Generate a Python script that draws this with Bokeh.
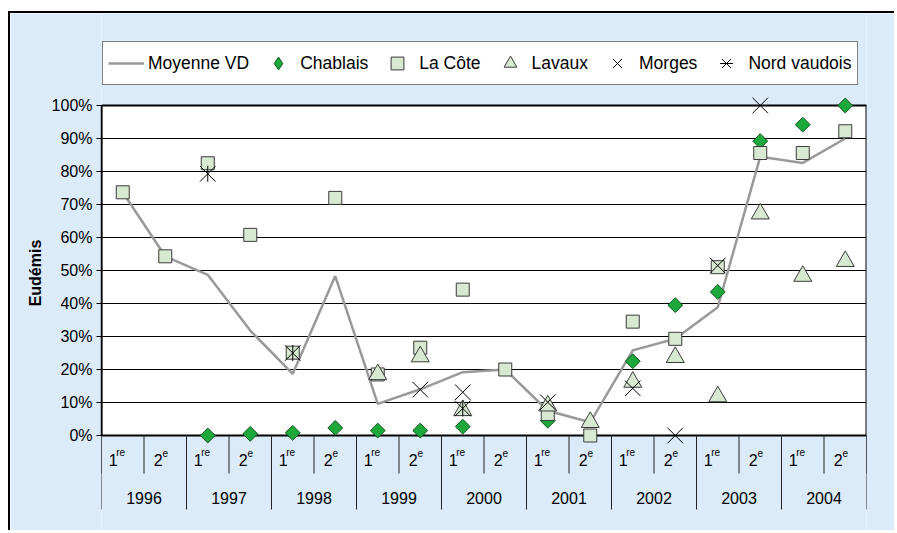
import numpy as np
from bokeh.plotting import figure
from bokeh.models import (Range1d, LinearAxis, FixedTicker, PrintfTickFormatter,
                          Legend, LegendItem, ColumnDataSource, Grid)
from bokeh.core.properties import value
from bokeh.embed import file_html
from bokeh.resources import INLINE

nan = float("nan")

# ---------------- data ----------------
years = ["1996", "1997", "1998", "1999", "2000", "2001", "2002", "2003", "2004"]
half_base = ["1", "2"]
half_sup = ["re", "e"]

moyenne_vd = [73.7, 54.3, 48.7, 31.8, 18.7, 48.3, 9.6, 14.0, 19.2,
              20.0, 7.5, 4.0, 25.8, 29.3, 38.9, 84.5, 82.6, 90.0]
chablais = [nan, nan, 0.0, 0.5, 0.8, 2.3, 1.5, 1.5, 2.7,
            nan, 4.5, nan, 22.5, 39.5, 43.5, 89.2, 94.2, 100.0]
la_cote = [73.7, 54.3, 82.5, 60.8, 25.1, 72.0, 18.5, 26.6, 44.2,
           20.0, 6.5, 0.0, 34.5, 29.3, 51.0, 85.6, 85.6, 92.2]
lavaux = [nan, nan, nan, nan, nan, nan, 18.5, 23.9, 7.6,
          nan, 9.0, 4.0, 16.2, 23.7, 11.8, 67.2, 48.3, 52.8]
morges = [nan, nan, nan, nan, nan, nan, nan, 13.9, 13.1,
          nan, 10.1, nan, 14.3, 0.0, 51.5, 100.0, nan, nan]
nord_vaudois = [nan, nan, 79.3, nan, 25.0, nan, nan, nan, 8.2,
                nan, nan, nan, nan, nan, nan, nan, nan, nan]
y_ticks = list(range(0, 101, 10))

# ---------------- styling ----------------
FONT = "Liberation Sans"
BLUE = "#DBEBFA"
GREEN = "#1CA83A"
PALE = "#D8E9D1"
PX = 3.3                      # pixels per percent
INNER_DROP = 38 / PX          # half-year separator length
YEAR_DROP = 74 / PX           # year separator length

n = len(years) * len(half_base)
xc = np.arange(n) + 0.5
y_lo, y_hi = -97 / PX, 100 + 92 / PX

p = figure(width=886, height=519, output_backend="svg", toolbar_location=None,
           x_range=Range1d(0, n), y_range=Range1d(y_lo, y_hi),
           min_border_left=91, min_border_right=30, min_border_top=0, min_border_bottom=0,
           background_fill_color=None, border_fill_color=BLUE,
           outline_line_color=None, x_axis_location=None, y_axis_location=None)
p.styles = {"margin-left": "8px", "margin-top": "11px",
            "border-left": "2px solid black", "border-top": "2px solid black"}
for g in p.grid:
    g.visible = False

yaxis = LinearAxis(bounds=(0, 100), ticker=FixedTicker(ticks=y_ticks),
                   formatter=PrintfTickFormatter(format="%d%%"),
                   axis_label="Eudémis", axis_label_text_font=FONT,
                   axis_label_text_font_style="bold", axis_label_text_font_size="16px",
                   axis_label_standoff=5, axis_label_text_color="black",
                   major_label_text_font=FONT, major_label_text_font_size="16px",
                   major_label_text_color="black", major_label_standoff=4,
                   major_tick_out=5, major_tick_in=0, minor_tick_out=0, minor_tick_in=0,
                   axis_line_color="black", axis_line_width=1.5,
                   major_tick_line_color="black", major_tick_line_width=1)
p.add_layout(yaxis, "left")
p.add_layout(Grid(dimension=1, ticker=yaxis.ticker, grid_line_color="black",
                  grid_line_width=1))

# blue chart background inside the frame (extends past the frame, clipped)
p.quad(left=[-1], right=[n + 1], bottom=[y_lo - 10], top=[y_hi + 10],
       fill_color=BLUE, line_color=None, level="image")
# white data area (drawn beneath the grid) and its border
p.quad(left=[0], right=[n], bottom=[0], top=[100], fill_color="white",
       line_color=None, level="image")
p.quad(left=[0], right=[n], bottom=[0], top=[100], fill_color=None,
       line_color="black", line_width=2)

# category separators
bounds = np.arange(n + 1)
p.segment(x0=bounds, y0=np.zeros(n + 1), x1=bounds,
          y1=np.full(n + 1, -INNER_DROP), line_color="#222222", line_width=1)
ybounds = np.arange(0, n + 1, 2)
p.segment(x0=ybounds, y0=np.zeros(len(ybounds)), x1=ybounds,
          y1=np.full(len(ybounds), -YEAR_DROP), line_color="#222222", line_width=1)

# category labels
cat = ColumnDataSource(dict(x=xc, y=np.zeros(n),
                            base=half_base * len(years), sup=half_sup * len(years),
                            bx=[-5.0, -2.5] * len(years), sx=[-6.5, -2.7] * len(years)))
p.text(x="x", y="y", text="base", source=cat, x_offset="bx", y_offset=24,
       text_align="right", text_baseline="alphabetic", text_font=value(FONT),
       text_font_size="16px", text_color="black")
p.text(x="x", y="y", text="sup", source=cat, x_offset="sx", y_offset=17,
       text_align="left", text_baseline="alphabetic", text_font=value(FONT),
       text_font_size="10px", text_color="black")
yr = ColumnDataSource(dict(x=np.arange(len(years)) * 2 + 1.0, y=np.zeros(len(years)),
                           t=years))
p.text(x="x", y="y", text="t", source=yr, y_offset=62, text_align="center",
       text_baseline="alphabetic", text_font=value(FONT), text_font_size="16px",
       text_color="black")

# series
r_moy = p.line(xc, moyenne_vd, line_color="#999999", line_width=2.5)
r_cha = p.scatter(xc, chablais, marker="square", angle=np.pi / 4, size=10.5,
                  fill_color=GREEN, line_color="#145522", line_width=1)
r_cot = p.scatter(xc, la_cote, marker="square", size=13, fill_color=PALE,
                  line_color="#3a3a3a", line_width=1)
r_lav = p.scatter(xc, lavaux, marker="triangle", size=18, fill_color=PALE,
                  line_color="#3a3a3a", line_width=1)
r_mor = p.scatter(xc, morges, marker="x", size=22, line_color="black", line_width=1)
r_nv1 = p.scatter(xc, nord_vaudois, marker="x", size=22, line_color="black", line_width=1)
r_nv2 = p.scatter(xc, nord_vaudois, marker="dash", angle=np.pi / 2, size=16,
                  line_color="black", line_width=1)
# legend swatch for the (rotated-square) Chablais marker: one point, not drawn
r_cha_key = p.scatter(x=[nan], y=[nan], marker="diamond", size=14,
                      fill_color=GREEN, line_color="#145522", line_width=1)

legend = Legend(items=[LegendItem(label="Moyenne VD", renderers=[r_moy]),
                       LegendItem(label="Chablais", renderers=[r_cha_key]),
                       LegendItem(label="La Côte", renderers=[r_cot]),
                       LegendItem(label="Lavaux", renderers=[r_lav]),
                       LegendItem(label="Morges", renderers=[r_mor]),
                       LegendItem(label="Nord vaudois", renderers=[r_nv1, r_nv2])],
                orientation="horizontal", location=(1, 447), margin=0, padding=5,
                spacing=11, glyph_width=36, glyph_height=32, label_height=20,
                label_standoff=4, label_text_font=FONT, label_text_font_size="17.5px",
                label_text_color="black", border_line_color="black",
                border_line_width=1, background_fill_color="white",
                background_fill_alpha=1.0)
p.add_layout(legend)

open("out.html", "w").write(file_html(p, INLINE))
